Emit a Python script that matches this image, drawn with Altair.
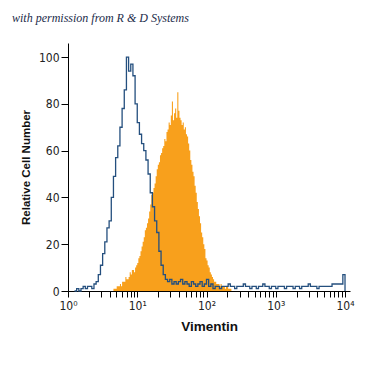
import altair as alt
import pandas as pd

# Control histogram: 32 channels per decade over 4 decades (10^0 .. 10^4)
BLUE_PER_DECADE = 32
# Vimentin histogram: 64 channels per decade
ORANGE_PER_DECADE = 64

blue_channels = list(range(3, 128))
blue_counts = [0,
               1, 0, 1, 2, 1, 2, 2, 1,
               3, 4, 7, 11, 16, 21, 27, 30,
               40, 49, 57, 62, 70, 78, 86, 100,
               94, 97, 92, 80, 72, 67, 63, 60,
               56, 50, 42, 36, 30, 25, 17, 11,
               7, 5, 4, 5, 3, 4, 3, 4,
               5, 3, 4, 3, 2, 4, 3, 2,
               3, 4, 2, 3, 5, 2, 3, 1,
               2, 2, 1, 2, 2, 2, 3, 2,
               2, 1, 2, 2, 2, 3, 2, 2,
               1, 2, 2, 1, 2, 2, 3, 2,
               2, 1, 2, 2, 1, 2, 2, 2,
               1, 2, 2, 2, 1, 2, 2, 1,
               2, 2, 2, 3, 2, 2, 2, 1,
               2, 2, 2, 2, 2, 2, 3, 3,
               3, 3, 3, 7]

orange_channels = list(range(42, 152))
orange_counts = [1, 1, 1, 2, 2, 2, 3, 2, 4, 4, 4, 6, 5, 5, 6, 8, 7, 9, 9, 8,
                 10, 11, 12, 14, 15, 17, 19, 21, 23, 26, 27, 29, 31, 34, 37, 41,
                 42, 44, 46, 49, 52, 54, 55, 58, 59, 61, 62, 65, 64, 68, 69, 72,
                 71, 75, 81, 73, 76, 78, 74, 85, 77, 74, 73, 71, 72, 69, 70, 67,
                 66, 63, 60, 56, 54, 51, 49, 45, 42, 38, 35, 32, 29, 25, 23, 20,
                 18, 14, 13, 11, 10, 8, 7, 6, 5, 4, 4, 3, 3, 3, 2, 3, 2, 2, 2, 1,
                 2, 2, 1, 1, 1, 0]

y_ticks = [0, 20, 40, 60, 80, 100]
x_ticks = [k * 10 ** d for d in range(4) for k in range(1, 10)] + [10000]
x_labels = {1: "10⁰", 10: "10¹", 100: "10²", 1000: "10³", 10000: "10⁴"}


def step_rows(channels, counts, per_decade, series):
    rows = [{"x": 10 ** (c / per_decade), "y": v, "s": series}
            for c, v in zip(channels, counts)]
    rows.append({"x": 10 ** ((channels[-1] + 1) / per_decade), "y": 0, "s": series})
    return rows


blue_df = pd.DataFrame(step_rows(blue_channels, blue_counts, BLUE_PER_DECADE, "control"))
orange_df = pd.DataFrame(step_rows(orange_channels, orange_counts, ORANGE_PER_DECADE, "vimentin"))

label_expr = " : ".join(
    [f"datum.value == {k} ? '{v}'" for k, v in x_labels.items()]) + " : ''"

FONT = "Liberation Sans Narrow, DejaVu Sans Condensed, sans-serif"
TFONT = "Liberation Sans, Arial, sans-serif"

x_enc = alt.X("x:Q",
              scale=alt.Scale(type="log", domain=[1, 10 ** 4.072], nice=False),
              axis=alt.Axis(values=x_ticks, labelExpr=label_expr, title="Vimentin",
                            labelOverlap=False, labelFlush=False, grid=False,
                            tickSize=6, labelPadding=3, titlePadding=8))
y_enc = alt.Y("y:Q",
              scale=alt.Scale(domain=[0, 106], nice=False),
              axis=alt.Axis(values=y_ticks, title="Relative Cell Number", grid=False,
                            tickSize=7, labelPadding=2, titlePadding=7))

orange = alt.Chart(orange_df).mark_area(
    interpolate="step-after", color="#f8a01c", opacity=1
).encode(x=x_enc, y=y_enc, y2=alt.datum(0))

blue = alt.Chart(blue_df).mark_line(
    interpolate="step-after", color="#244f7e", strokeWidth=1.3
).encode(x=x_enc, y=y_enc)

chart = alt.layer(orange, blue).properties(
    width=282,
    height=248,
    autosize=alt.AutoSizeParams(type="none"),
    padding={"left": 68, "top": 43, "right": 25, "bottom": 84},
    title=alt.TitleParams(
        "with permission from R & D Systems",
        anchor="start", frame="group", dx=-56, offset=18,
        font="Liberation Serif, DejaVu Serif, serif", fontStyle="italic",
        fontWeight="normal", fontSize=12, color="#1c2b4a"),
).configure_view(stroke=None).configure_axis(
    domainColor="#000", tickColor="#000", domainWidth=1, tickWidth=1,
    labelColor="#222", labelFont=FONT, labelFontSize=12,
    titleFont=TFONT, titleFontWeight="bold", titleColor="#111",
).configure_axisX(titleFontSize=13.5).configure_axisY(titleFontSize=11.5)

chart.save("out.html", embed_options={"renderer": "svg", "actions": False})
